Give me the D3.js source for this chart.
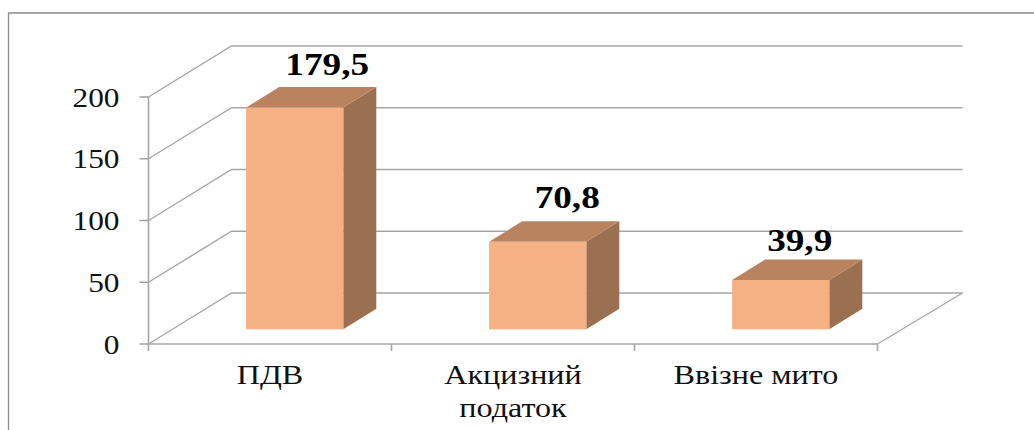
<!DOCTYPE html>
<html>
<head>
<meta charset="utf-8">
<script src="https://cdn.jsdelivr.net/npm/d3@7"></script>
<style>
  html, body { margin: 0; padding: 0; background: #fff; overflow: hidden; }
  text { font-family: "Liberation Serif", serif; fill: #111; }
</style>
</head>
<body>
<svg id="main_chart" width="1034" height="430"></svg>
<script>
const categories = ["ПДВ", "Акцизний|податок", "Ввізне мито"];
const values = [179.5, 70.8, 39.9];
const valueLabels = ["179,5", "70,8", "39,9"];
const yTicks = [0, 50, 100, 150, 200];

const svg = d3.select("#main_chart");

// outer frame, cut off by the picture on the right and at the bottom
svg.append("path")
    .attr("d", "M8.5,430V13H1034")
    .attr("fill", "none")
    .attr("stroke", "#8c8c8c")
    .attr("stroke-width", 1.3);

// depth of the 3d floor and how far the bars sit inside it
const depthX = 83, depthY = -51;
const backRight = 962.5;
const barDepthX = 33, barDepthY = -20.5;
const barInsetX = 24.7, barInsetY = -14.7;

// the text in the picture is stretched sideways
const textStretch = 1.19;

const xScale = d3.scaleBand()
    .domain(categories)
    .range([148.5, 877.5])
    .paddingInner(0.6)
    .paddingOuter(0.3);

const yScale = d3.scaleLinear()
    .domain([0, 200])
    .range([344, 97]);

const gridColor = "#a6a6a6";
const grid = svg.append("g").attr("fill", "none").attr("stroke", gridColor).attr("stroke-width", 1.4);

// side wall and back wall lines
grid.selectAll("path")
    .data(yTicks)
    .enter().append("path")
    .attr("d", d => "M" + xScale.range()[0] + "," + yScale(d)
        + "L" + (xScale.range()[0] + depthX) + "," + (yScale(d) + depthY)
        + "H" + backRight);

// floor, right edge
grid.append("path")
    .attr("d", "M" + xScale.range()[1] + "," + yScale(0)
        + "L" + backRight + "," + (yScale(0) + depthY));

// axes
const axisG = svg.append("g").attr("stroke", gridColor).attr("stroke-width", 1.6);
axisG.append("line")
    .attr("x1", xScale.range()[0]).attr("x2", xScale.range()[0])
    .attr("y1", yScale(200)).attr("y2", yScale(0));
axisG.append("line")
    .attr("x1", xScale.range()[0]).attr("x2", xScale.range()[1])
    .attr("y1", yScale(0)).attr("y2", yScale(0));
axisG.selectAll(".ytick")
    .data(yTicks)
    .enter().append("line")
    .attr("class", "ytick")
    .attr("x1", xScale.range()[0] - 9).attr("x2", xScale.range()[0])
    .attr("y1", d => yScale(d)).attr("y2", d => yScale(d));
const step = xScale.step();
axisG.selectAll(".xtick")
    .data(d3.range(categories.length + 1))
    .enter().append("line")
    .attr("class", "xtick")
    .attr("x1", i => xScale.range()[0] + i * step)
    .attr("x2", i => xScale.range()[0] + i * step)
    .attr("y1", yScale(0)).attr("y2", yScale(0) + 7);

// y labels
svg.append("g").selectAll("text")
    .data(yTicks)
    .enter().append("text")
    .attr("transform", d => "translate(119.5," + yScale(d) + ") scale(1.16,1)")
    .attr("dy", "0.36em")
    .attr("text-anchor", "end")
    .style("font-size", "27px")
    .text(d => d);

// bars: side, top, then front
const bars = svg.append("g").selectAll("g")
    .data(categories)
    .enter().append("g");

const left = d => xScale(d) + barInsetX;
const right = d => left(d) + xScale.bandwidth();
const base = yScale(0) + barInsetY;
const topY = (d, i) => yScale(values[i]) + barInsetY;

bars.append("path")
    .attr("fill", "#9b7050")
    .attr("d", (d, i) => "M" + right(d) + "," + base
        + "L" + right(d) + "," + topY(d, i)
        + "l" + barDepthX + "," + barDepthY
        + "V" + (base + barDepthY) + "Z");

bars.append("path")
    .attr("fill", "#b98360")
    .attr("d", (d, i) => "M" + left(d) + "," + topY(d, i)
        + "l" + barDepthX + "," + barDepthY
        + "H" + (right(d) + barDepthX)
        + "L" + right(d) + "," + topY(d, i) + "Z");

bars.append("rect")
    .attr("fill", "#f5b183")
    .attr("x", left)
    .attr("y", topY)
    .attr("width", xScale.bandwidth())
    .attr("height", (d, i) => base - topY(d, i));

// value labels above bars, hand placed in the original
const labelShiftX = [32.5, 29.5, 19];
const labelShiftY = [-33, -34, -29];
bars.append("text")
    .attr("transform", (d, i) => "translate(" + (left(d) + xScale.bandwidth() / 2 + labelShiftX[i]) + ","
        + (topY(d, i) + labelShiftY[i]) + ") scale(1.2,1)")
    .attr("text-anchor", "middle")
    .style("font-size", "31px")
    .style("font-weight", "bold")
    .style("fill", "#000")
    .text((d, i) => valueLabels[i]);

// category labels
const catLabels = svg.append("g").selectAll("g")
    .data(categories)
    .enter().append("g")
    .attr("transform", d => "translate(" + (xScale(d) + xScale.bandwidth() / 2) + ",384) scale(" + textStretch + ",1)");
catLabels.selectAll("text")
    .data(d => d.split("|"))
    .enter().append("text")
    .attr("y", (d, i) => i * 33)
    .attr("text-anchor", "middle")
    .style("font-size", "27px")
    .text(d => d);
</script>
</body>
</html>
